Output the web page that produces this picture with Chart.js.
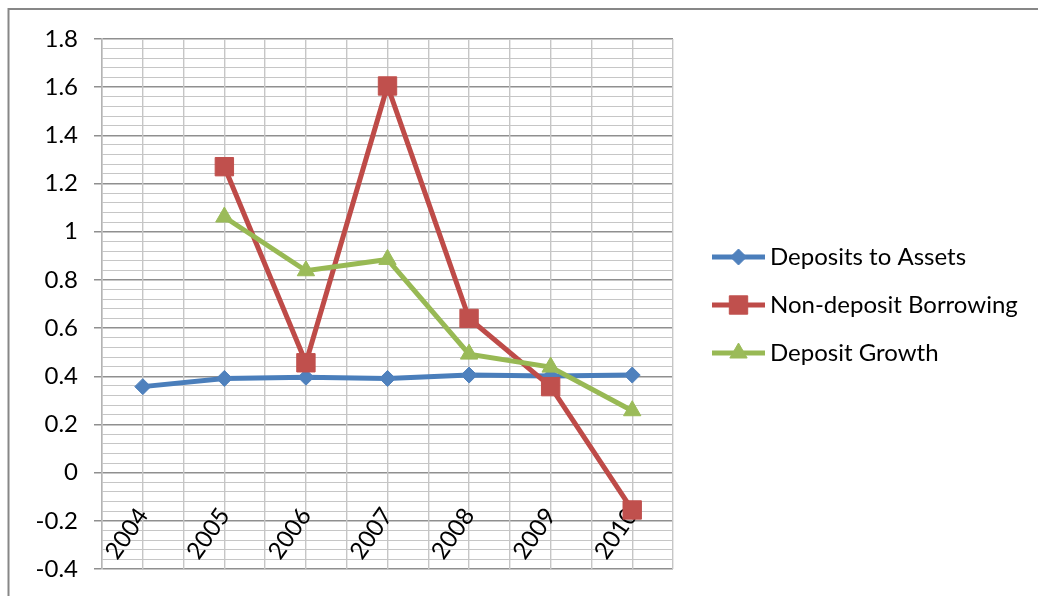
<!DOCTYPE html>
<html>
<head>
<meta charset="utf-8">
<script src="https://cdn.jsdelivr.net/npm/chart.js@4"></script>
<style>
  html, body { margin: 0; padding: 0; background: #fff; }
  #wrap { width: 1038px; height: 596px; position: relative; }
</style>
</head>
<body>
<div id="wrap"><canvas id="chart" width="1038" height="596"></canvas></div>
<script>
// Ratio series by year
const years = ['2004', '2005', '2006', '2007', '2008', '2009', '2010'];
const depositsToAssets = [0.357, 0.391, 0.396, 0.391, 0.405, 0.401, 0.405];
const nonDepositBorrowing = [null, 1.270, 0.456, 1.605, 0.640, 0.357, -0.155];
const depositGrowth = [null, 1.061, 0.838, 0.885, 0.492, 0.438, 0.257];
const seriesNames = ['Deposits to Assets', 'Non-deposit Borrowing', 'Deposit Growth'];

// Value axis: labelled every 0.2, fine grid every 0.04
const yMin = -0.4;
const yMax = 1.8;
const yMajorStep = 0.2;
const yMinorStep = 0.04;

const FONT = { family: 'Lato, "Open Sans", sans-serif', size: 24 };
const MAJOR_GRID = '#8f8f8f';
const MINOR_GRID = '#c6c6c6';

const isMajor = v => Math.abs(v / yMajorStep - Math.round(v / yMajorStep)) < 1e-6;
const fmt = v => String(Math.round(v * 10) / 10);

// Outer chart frame
const framePlugin = {
  id: 'frame',
  beforeDraw(chart) {
    const ctx = chart.ctx;
    ctx.save();
    ctx.fillStyle = '#fff';
    ctx.fillRect(0, 0, chart.width, chart.height);
    ctx.strokeStyle = '#878787';
    ctx.lineWidth = 2;
    ctx.beginPath();
    ctx.moveTo(8.5, chart.height);
    ctx.lineTo(8.5, 9);
    ctx.lineTo(chart.width, 9);
    ctx.stroke();
    ctx.restore();
  }
};

// Legend on the right: line sample with marker, then the series name
const sideLegend = {
  id: 'sideLegend',
  afterDraw(chart) {
    const ctx = chart.ctx;
    const area = chart.chartArea;
    const step = 48;
    const lineStart = area.right + 39;
    const lineEnd = area.right + 92;
    const textX = area.right + 97;
    const cy = (area.top + area.bottom) / 2 + 1;
    const n = chart.data.datasets.length;
    // legend lists series in their data order
    chart.data.datasets.forEach((ds, i) => {
      const y = cy + (i - (n - 1) / 2) * step;
      ctx.save();
      ctx.strokeStyle = ds.borderColor;
      ctx.lineWidth = ds.borderWidth;
      ctx.beginPath();
      ctx.moveTo(lineStart, y);
      ctx.lineTo(lineEnd, y);
      ctx.stroke();
      ctx.fillStyle = ds.pointBackgroundColor;
      ctx.strokeStyle = ds.pointBorderColor;
      ctx.lineWidth = 1;
      Chart.helpers.drawPoint(ctx, {
        pointStyle: ds.pointStyle,
        radius: ds.pointRadius,
        rotation: 0,
        borderWidth: 1
      }, (lineStart + lineEnd) / 2, y);
      ctx.fillStyle = '#000';
      ctx.font = FONT.size + 'px ' + FONT.family;
      ctx.textBaseline = 'middle';
      ctx.textAlign = 'left';
      ctx.fillText(ds.label, textX, y);
      ctx.restore();
    });
  }
};

function lineSeries(label, data, line, marker, style, radius, order) {
  return {
    label, data, order,
    borderColor: line,
    backgroundColor: marker,
    borderWidth: 5,
    tension: 0,
    spanGaps: false,
    pointStyle: style,
    pointRadius: radius,
    pointHoverRadius: radius,
    pointBackgroundColor: marker,
    pointBorderColor: marker,
    pointBorderWidth: 1
  };
}

new Chart(document.getElementById('chart'), {
  type: 'line',
  data: {
    labels: years,
    datasets: [
      lineSeries(seriesNames[0], depositsToAssets, '#4A7EBB', '#4F81BD', 'rectRot', 8, 2),
      lineSeries(seriesNames[1], nonDepositBorrowing, '#BE4B48', '#C0504D', 'rect', 13, 1),
      lineSeries(seriesNames[2], depositGrowth, '#98B954', '#9BBB59', 'triangle', 10, 0)
    ]
  },
  options: {
    responsive: false,
    animation: false,
    devicePixelRatio: 1,
    events: [],
    layout: { padding: { left: 0, top: 39, right: 365, bottom: 27 } },
    plugins: {
      legend: { display: false },
      tooltip: { enabled: false }
    },
    scales: {
      y: {
        type: 'linear',
        position: 'left',
        min: yMin,
        max: yMax,
        afterFit(scale) {
          // fixed axis width; the end labels fit inside the outer padding
          scale.width = 102;
          scale.paddingTop = 10;
          scale.paddingBottom = 10;
        },
        ticks: {
          stepSize: yMinorStep,
          autoSkip: false,
          padding: 16,
          color: '#000',
          font: FONT,
          callback: v => isMajor(v) ? fmt(v) : ''
        },
        grid: {
          color: c => isMajor(c.tick.value) ? MAJOR_GRID : MINOR_GRID,
          lineWidth: c => isMajor(c.tick.value) ? 1.5 : 1,
          tickColor: c => isMajor(c.tick.value) ? MAJOR_GRID : 'rgba(0,0,0,0)',
          tickLength: 8,
          tickWidth: 1.5
        },
        border: { color: '#b4b4b4', width: 1.5 }
      },
      x: {
        type: 'category',
        offset: true,
        position: { y: 0 },
        grid: { offset: false, color: MINOR_GRID, lineWidth: 1.4, drawTicks: false },
        border: { display: false },
        ticks: {
          autoSkip: false,
          minRotation: 55,
          maxRotation: 55,
          padding: 30,
          color: '#000',
          font: FONT
        }
      },
      x2: {
        type: 'category',
        offset: true,
        position: { y: 0 },
        grid: { offset: true, color: MINOR_GRID, lineWidth: 1.4, drawTicks: false },
        border: { display: false },
        ticks: { display: false }
      }
    }
  },
  plugins: [framePlugin, sideLegend]
});
</script>
</body>
</html>
